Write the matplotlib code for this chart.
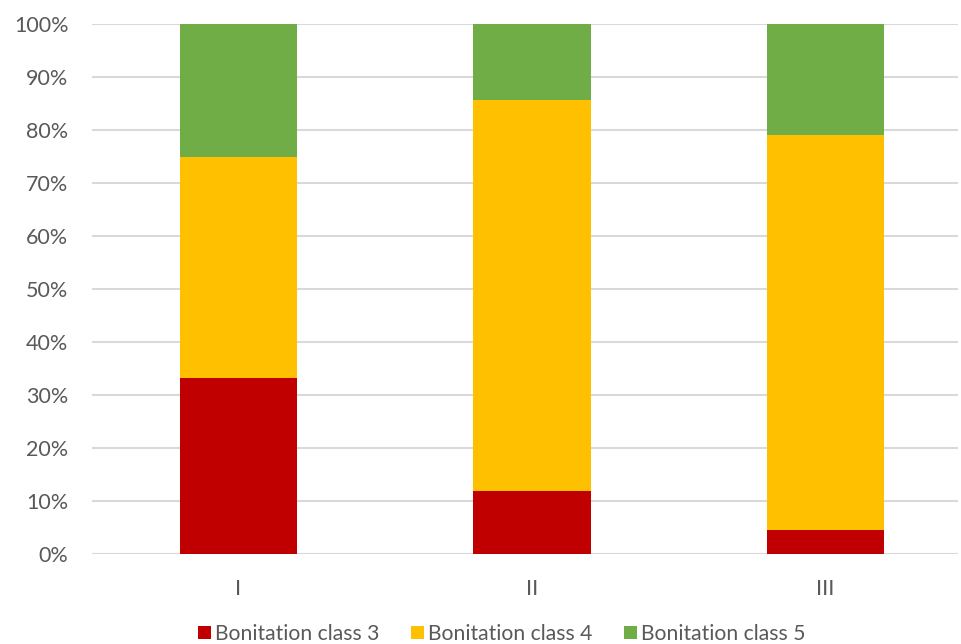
import matplotlib
matplotlib.use("Agg")
import matplotlib.pyplot as plt
from matplotlib.ticker import FuncFormatter
from matplotlib.patches import Patch

categories = ["I", "II", "III"]
class3 = [33.3, 11.8, 4.5]
class4 = [41.7, 73.8, 74.6]
class5 = [25.0, 14.4, 20.9]
series_names = ["Bonitation class 3", "Bonitation class 4", "Bonitation class 5"]
colors = ["#C00000", "#FFC000", "#70AD47"]

plt.rcParams['font.family'] = ['Lato', 'DejaVu Sans']

fig = plt.figure(figsize=(9.61, 6.44), dpi=100)
ax = fig.add_axes([92/961, 1-554/644, (958-92)/961, (554-24)/644])

x = list(range(len(categories)))
width = 0.4
bottom = [0.0]*len(categories)
for vals, col, name in zip([class3, class4, class5], colors, series_names):
    ax.bar(x, vals, width, bottom=bottom, color=col, label=name, zorder=3)
    bottom = [b+v for b, v in zip(bottom, vals)]

ax.set_ylim(0, 100)
ax.set_xlim(-0.499, 2.451)
ax.set_yticks(range(0, 101, 10))
ax.yaxis.set_major_formatter(FuncFormatter(lambda v, p: f"{int(v)}%"))
ax.set_xticks(x)
ax.set_xticklabels(categories)
ax.grid(axis='y', color='#D9D9D9', linewidth=1.5, zorder=0)
for s in ax.spines.values():
    s.set_visible(False)
ax.tick_params(axis='both', length=0, labelsize=15.5, labelcolor='#595959')
ax.tick_params(axis='y', pad=17)
ax.tick_params(axis='x', pad=18)

handles = [Patch(facecolor=c, label=n) for c, n in zip(colors, series_names)]
fig.legend(handles=handles, loc='center', bbox_to_anchor=(0.522, 1-634/644), ncol=3,
           frameon=False, fontsize=15.2, labelcolor='#595959', handlelength=0.6,
           handleheight=0.6, handletextpad=0.2, columnspacing=1.5)

fig.savefig("out.png", dpi=100)
